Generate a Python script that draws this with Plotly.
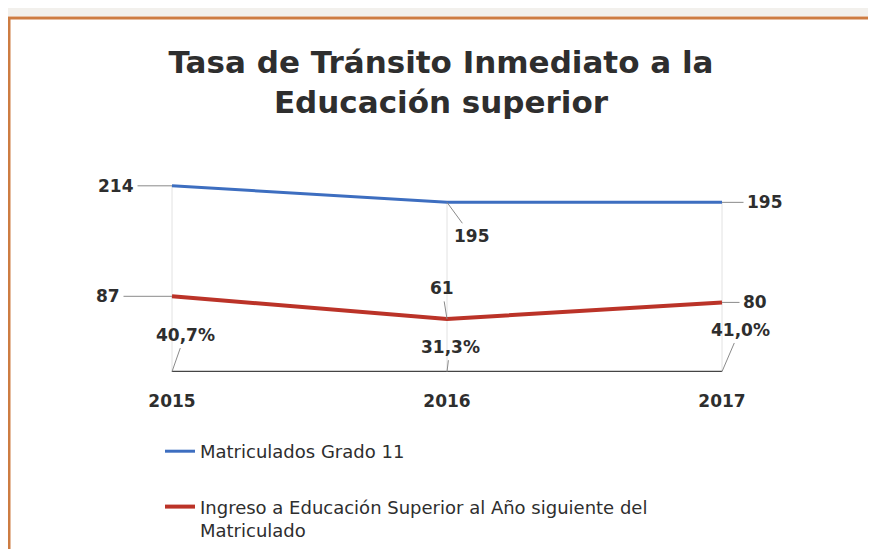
import plotly.graph_objects as go

# datos
anios = [2015, 2016, 2017]
matriculados = [214, 195, 195]
ingreso = [87, 61, 80]
tasa = [40.7, 31.3, 41.0]  # porcentaje

# posicion de las etiquetas (offset en px), como en excel
off_mat = [(-56, 0), (25, 34), (43, 0)]
off_ing = [(-64, 0), (-5, -31), (33, 0)]
off_tasa = [(13, -37), (3, -25), (18, -42)]

W, H = 876, 549
O = 8  # margen del body en la pagina
ml, mr, mt, mb = 120, 100, 150, 185
pw, ph = W - ml - mr, H - mt - mb
ppu = 275.0   # px por año
ppy = 0.87    # px por unidad
ymax = ph / ppy

def px_x(p):
    return (p - O - ml) / pw

def px_y(p):
    return (H - mb - (p - O)) / ph

fnt = "DejaVu Sans, Verdana, sans-serif"
txt = "#2e2e2e"

fig = go.Figure()
fig.add_trace(go.Scatter(x=anios, y=matriculados, mode="lines", name="Matriculados Grado 11",
                         line=dict(color="#3d6ec0", width=3), legendgroup="a"))
fig.add_trace(go.Scatter(x=anios, y=ingreso, mode="lines",
                         name="Ingreso a Educación Superior al Año siguiente del<br>Matriculado",
                         line=dict(color="#bb3328", width=4), legendgroup="b"))
# la tasa se dibuja sobre el mismo eje (queda pegada al cero)
fig.add_trace(go.Scatter(x=anios, y=[t / 100 for t in tasa], mode="lines", showlegend=False,
                         line=dict(color="#454545", width=2)))

ann = []
for a, v, (dx, dy) in zip(anios, matriculados, off_mat):
    ann.append(dict(x=a, y=v, text=f"<b>{v}</b>", ax=dx, ay=dy))
for a, v, (dx, dy) in zip(anios, ingreso, off_ing):
    ann.append(dict(x=a, y=v, text=f"<b>{v}</b>", ax=dx, ay=dy))
for a, v, (dx, dy) in zip(anios, tasa, off_tasa):
    ann.append(dict(x=a, y=v / 100, text="<b>" + f"{v:.1f}%".replace(".", ",") + "</b>", ax=dx, ay=dy))
for d in ann:
    d.update(xref="x", yref="y", showarrow=True, arrowhead=0, arrowwidth=1,
             arrowcolor="#8a8a8a", standoff=0, startstandoff=2,
             font=dict(family=fnt, size=17, color=txt))
fig.update_layout(annotations=ann)

# lineas de caida
for a, v in zip(anios, matriculados):
    fig.add_shape(type="line", x0=a, x1=a, y0=0, y1=v, line=dict(color="#e2e2e2", width=1), layer="below")

# borde naranja y franja superior
fig.add_shape(type="rect", xref="paper", yref="paper", x0=px_x(-20), x1=px_x(W + 20),
              y0=px_y(-20), y1=px_y(16), fillcolor="#f2f0ec", line=dict(width=0), layer="below")
fig.add_shape(type="rect", xref="paper", yref="paper", x0=px_x(9), x1=px_x(W + 20),
              y0=px_y(H + 20), y1=px_y(18), line=dict(color="#cd7c42", width=3), layer="above")

fig.update_layout(
    width=W, height=H,
    margin=dict(l=ml, r=mr, t=mt, b=mb, autoexpand=False),
    paper_bgcolor="white", plot_bgcolor="white",
    title=dict(text="<b>Tasa de Tránsito Inmediato a la<br>Educación superior</b>",
               x=(441 - O) / W, xanchor="center", y=1 - (81 - 2 * O) / H, yanchor="middle",
               font=dict(family=fnt, size=31, color=txt)),
    xaxis=dict(range=[2015 - (172 - O - ml) / ppu, 2017 + (ml + pw + O - 722) / ppu],
               tickvals=anios, ticktext=[f"<b>{a}</b>" for a in anios],
               showgrid=False, zeroline=False, showline=False, ticklabelstandoff=17,
               tickfont=dict(family=fnt, size=17, color=txt)),
    yaxis=dict(range=[0, ymax], visible=False),
    legend=dict(x=px_x(160), y=px_y(433), xanchor="left", yanchor="top",
                traceorder="grouped", tracegroupgap=29, valign="top",
                font=dict(family=fnt, size=18, color=txt), bgcolor="rgba(0,0,0,0)"),
    showlegend=True,
)

fig.write_html("out.html")
